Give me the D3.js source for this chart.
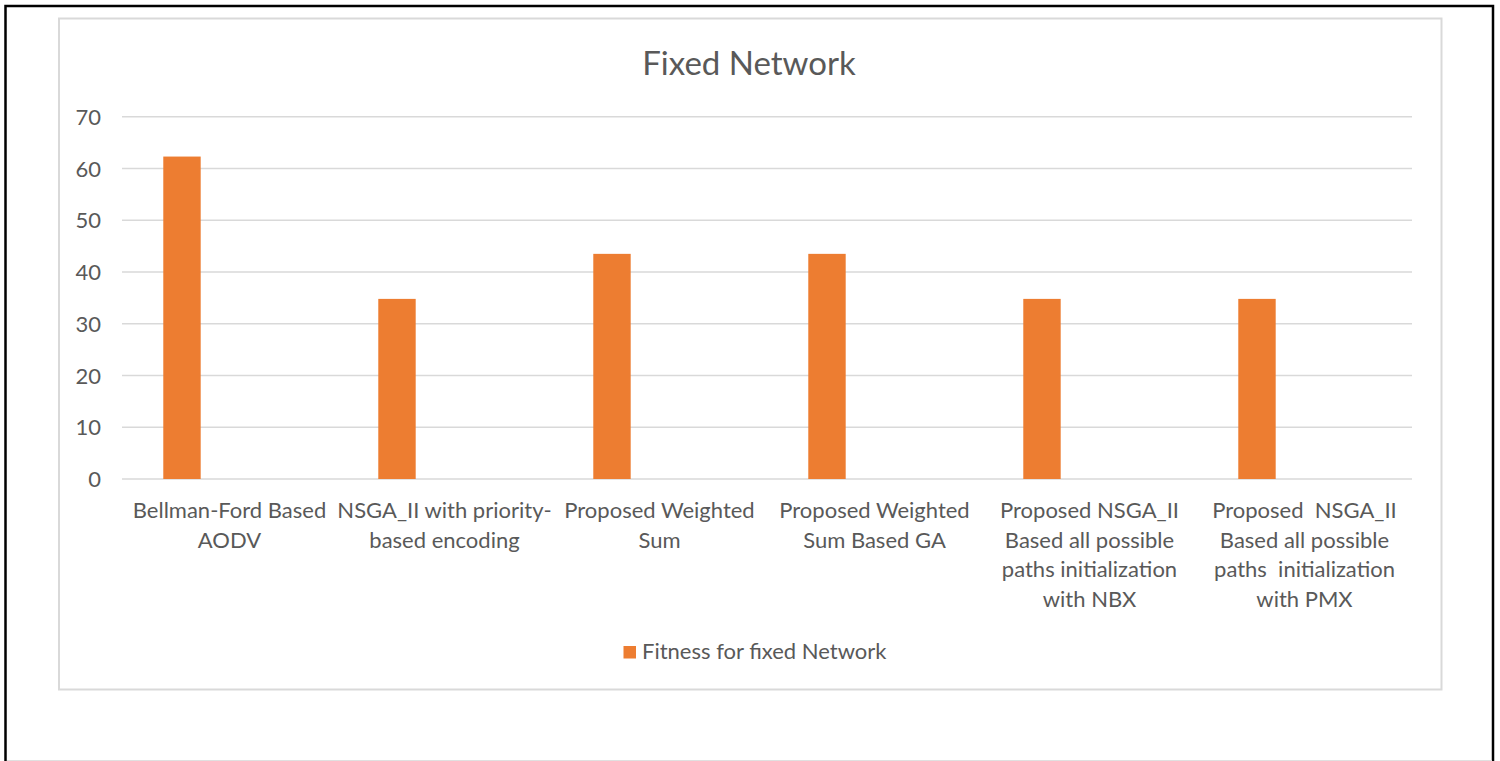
<!DOCTYPE html>
<html>
<head>
<meta charset="utf-8">
<script src="https://cdn.jsdelivr.net/npm/d3@7"></script>
<style>
  html, body { margin: 0; padding: 0; background: #fff; }
  svg { display: block; }
  text { font-family: Lato, "Open Sans", sans-serif; fill: #595959; }
</style>
</head>
<body>
<svg id="chart" width="1500" height="761"></svg>
<script>
const title = "Fixed Network";
const categories = [
  "Bellman-Ford Based\nAODV",
  "NSGA_II with priority-\nbased encoding",
  "Proposed Weighted\nSum",
  "Proposed Weighted\nSum Based GA",
  "Proposed NSGA_II\nBased all possible\npaths initialization\nwith NBX",
  "Proposed  NSGA_II\nBased all possible\npaths  initialization\nwith PMX"
];
const seriesName = "Fitness for fixed Network";
const values = [62.3, 34.8, 43.5, 43.5, 34.8, 34.8];
const yTicks = [0, 10, 20, 30, 40, 50, 60, 70];

const svg = d3.select("#chart");
const plot = { left: 122, right: 1412, top: 116.7, bottom: 479 };
const orange = "#ed7d31";

// outer black frame
svg.append("rect").attr("x", 5.5).attr("y", 6).attr("width", 1487.5).attr("height", 770)
  .attr("fill", "none").attr("stroke", "#000").attr("stroke-width", 2.5);
svg.append("line").attr("x1", 7).attr("x2", 1492).attr("y1", 760.5).attr("y2", 760.5)
  .attr("stroke", "#e0e0e0").attr("stroke-width", 1);

// chart area border
svg.append("rect").attr("x", 59).attr("y", 18.5).attr("width", 1382.5).attr("height", 671)
  .attr("fill", "#fff").attr("stroke", "#d9d9d9").attr("stroke-width", 2);

const x = d3.scaleBand().domain(categories).range([plot.left, plot.right]).padding(0);
const y = d3.scaleLinear().domain([0, 70]).range([plot.bottom, plot.top]);

// gridlines
svg.append("g").selectAll("line").data(yTicks).join("line")
  .attr("x1", plot.left).attr("x2", plot.right)
  .attr("y1", d => y(d)).attr("y2", d => y(d))
  .attr("stroke", "#d9d9d9").attr("stroke-width", 1.5);

// y axis labels
const yAxis = d3.axisLeft(y).tickValues(yTicks).tickSize(0).tickPadding(0);
const yg = svg.append("g").attr("transform", `translate(${101},0)`).call(yAxis);
yg.select(".domain").remove();
yg.selectAll("text").attr("font-size", 22).attr("fill", "#595959")
  .style("font-family", "Lato, 'Open Sans', sans-serif").attr("dy", "0.35em");

// bars: first of a clustered group within each category
const barOffset = x.bandwidth() * 0.192, barW = x.bandwidth() * 0.174;
svg.append("g").selectAll("rect").data(values).join("rect")
  .attr("x", (d, i) => x(categories[i]) + barOffset)
  .attr("width", barW)
  .attr("y", d => y(d))
  .attr("height", d => y(0) - y(d))
  .attr("fill", orange);

// category labels
const xl = svg.append("g");
categories.forEach(c => {
  const cx = x(c) + x.bandwidth() / 2;
  const t = xl.append("text").attr("text-anchor", "middle").attr("font-size", 22)
    .attr("x", cx).attr("y", 518).attr("xml:space", "preserve");
  c.split("\n").forEach((ln, j) => {
    t.append("tspan").attr("x", cx).attr("dy", j === 0 ? 0 : 29.6).text(ln)
      .style("white-space", "pre");
  });
});

// title
svg.append("text").attr("x", 749).attr("y", 75).attr("text-anchor", "middle")
  .attr("font-size", 33).text(title);

// legend
svg.append("rect").attr("x", 623.5).attr("y", 646).attr("width", 12.5).attr("height", 12.5).attr("fill", orange);
svg.append("text").attr("x", 642).attr("y", 659).attr("font-size", 22).text(seriesName);
</script>
</body>
</html>
